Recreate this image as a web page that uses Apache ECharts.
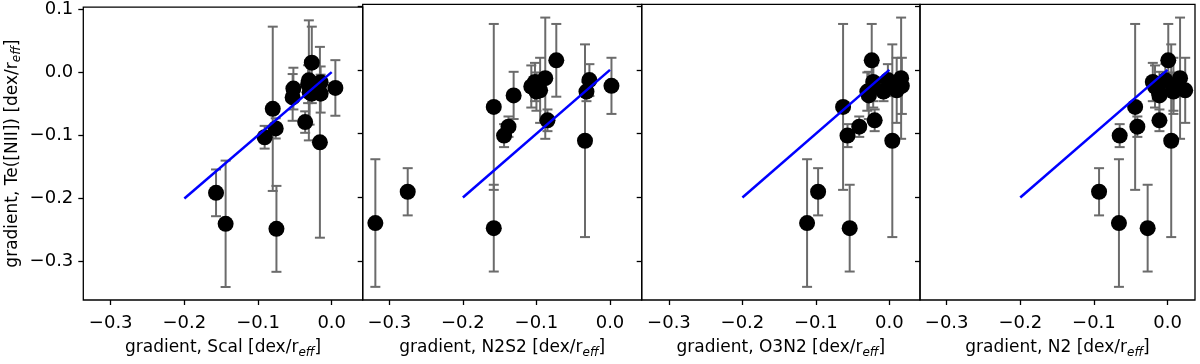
<!DOCTYPE html>
<html>
<head>
<meta charset="utf-8">
<script src="https://cdn.jsdelivr.net/npm/echarts@6/dist/echarts.min.js"></script>
<style>
  html, body { margin: 0; padding: 0; background: #fff; }
</style>
</head>
<body>
<div id="chart" style="width: 1200px; height: 364px;"></div>
<script>
// Te([NII]) gradient per galaxy, with its error
var yTe = [-0.240, -0.191, -0.058, -0.248, -0.089, -0.103, -0.040, -0.026, -0.032, -0.013, -0.079, 0.015, -0.111, -0.034, -0.016, -0.025, -0.019, -0.034]
var yErr = [0.100, 0.037, 0.130, 0.068, 0.016, 0.018, 0.037, 0.033, 0.051, 0.095, 0.017, 0.057, 0.151, 0.015, 0.025, 0.044, 0.030, 0.030]
// gradients from the strong-line calibrations
var xScal = [-0.144, -0.157, -0.080, -0.075, -0.076, -0.091, -0.053, -0.052, -0.030, -0.031, -0.036, -0.027, -0.016, -0.027, -0.015, 0.005, -0.032, -0.015]
var xN2S2 = [-0.319, -0.275, -0.158, -0.158, -0.138, -0.144, -0.131, -0.107, -0.095, -0.088, -0.085, -0.073, -0.034, -0.032, -0.028, 0.002, -0.102, -0.100]
var xO3N2 = [-0.112, -0.097, -0.063, -0.054, -0.041, -0.057, -0.028, -0.022, 0.010, 0.016, -0.020, -0.024, 0.004, -0.008, -0.002, 0.017, -0.022, -0.030]
var xN2 = [-0.066, -0.093, -0.044, -0.027, -0.041, -0.065, -0.011, -0.017, 0.024, 0.017, -0.011, 0.001, 0.005, -0.012, -0.003, 0.008, -0.020, 0.008]
// one-to-one line
var fitX = [-0.2, 0.0]
var fitY = [-0.2, 0.0]
var xTicks = [-0.3, -0.2, -0.1, 0.0]
var yTicks = [-0.3, -0.2, -0.1, 0.0, 0.1]

var panels = [
  { name: 'Scal', x: xScal, left: 83.3, width: 279.4, min: -0.3372, max: 0.0421 },
  { name: 'N2S2', x: xN2S2, left: 362.7, width: 279, min: -0.3362, max: 0.0431 },
  { name: 'O3N2', x: xO3N2, left: 641.7, width: 278.3, min: -0.3371, max: 0.0417 },
  { name: 'N2', x: xN2, left: 920, width: 275, min: -0.3362, max: 0.0373 }
]

var font = 'DejaVu Sans'
function fmt(v) {
  var s = Math.abs(v) < 1e-9 ? '0.0' : v.toFixed(1)
  return s.replace('-', '\u2212')
}
var subRich = {
  s: { fontFamily: font, fontSize: 12, fontStyle: 'italic', color: '#000', verticalAlign: 'bottom', lineHeight: 12 }
}

var myChart = echarts.init(document.getElementById('chart'))

var grid = [], xAxis = [], yAxis = [], series = []
panels.forEach(function (p, i) {
  grid.push({
    left: p.left, width: p.width, top: 4.3, height: 300.7,
    show: true, borderColor: '#000', borderWidth: 1.3, backgroundColor: 'transparent'
  })
  xAxis.push({
    type: 'value', gridIndex: i, min: p.min, max: p.max, position: 'bottom',
    name: 'gradient, ' + p.name + ' [dex/r{s|eff}]',
    nameLocation: 'middle', nameGap: 37,
    nameTextStyle: { fontFamily: font, fontSize: 17, color: '#000', lineHeight: 22, rich: subRich },
    splitLine: { show: false },
    axisLine: { show: false, onZero: false },
    axisTick: { show: true, length: 5, customValues: xTicks, lineStyle: { color: '#000', width: 1.3 } },
    axisLabel: { customValues: xTicks, formatter: fmt, fontFamily: font, fontSize: 18, color: '#000', margin: 14 }
  })
  yAxis.push({
    type: 'value', gridIndex: i, min: -0.3606, max: 0.1028, position: 'left',
    name: i === 0 ? 'gradient, Te([NII]) [dex/r{s|eff}]' : '',
    nameLocation: 'middle', nameGap: 60, nameRotate: 90,
    nameTextStyle: { fontFamily: font, fontSize: 17, color: '#000', lineHeight: 22, rich: subRich },
    splitLine: { show: false },
    axisLine: { show: false, onZero: false },
    axisTick: { show: true, length: 5, customValues: yTicks, lineStyle: { color: '#000', width: 1.3 } },
    axisLabel: { show: i === 0, customValues: yTicks, formatter: fmt, fontFamily: font, fontSize: 18, color: '#000', margin: 10 }
  })

  var pts = p.x.map(function (xv, k) { return [xv, yTe[k], yErr[k]] })

  // error bars
  series.push({
    type: 'custom', xAxisIndex: i, yAxisIndex: i, z: 2, silent: true,
    data: pts,
    renderItem: function (params, api) {
      var x = api.value(0), y = api.value(1), e = api.value(2)
      var hi = api.coord([x, y + e])
      var lo = api.coord([x, y - e])
      var st = { stroke: '#6b6b6b', lineWidth: 2 }
      return {
        type: 'group',
        children: [
          { type: 'line', shape: { x1: hi[0], y1: hi[1], x2: lo[0], y2: lo[1] }, style: st },
          { type: 'line', shape: { x1: hi[0] - 5, y1: hi[1], x2: hi[0] + 5, y2: hi[1] }, style: st },
          { type: 'line', shape: { x1: lo[0] - 5, y1: lo[1], x2: lo[0] + 5, y2: lo[1] }, style: st }
        ]
      }
    }
  })
  series.push({
    type: 'scatter', xAxisIndex: i, yAxisIndex: i, z: 3,
    symbol: 'circle', symbolSize: 16,
    itemStyle: { color: '#000', opacity: 1 },
    data: pts.map(function (d) { return [d[0], d[1]] })
  })
  series.push({
    type: 'line', xAxisIndex: i, yAxisIndex: i, z: 4,
    showSymbol: false, symbol: 'none',
    lineStyle: { color: '#0000ff', width: 2.5 },
    data: fitX.map(function (xv, k) { return [xv, fitY[k]] })
  })
})

var option = {
  animation: false,
  backgroundColor: '#fff',
  grid: grid,
  xAxis: xAxis,
  yAxis: yAxis,
  series: series
}
myChart.setOption(option)
</script>
</body>
</html>
